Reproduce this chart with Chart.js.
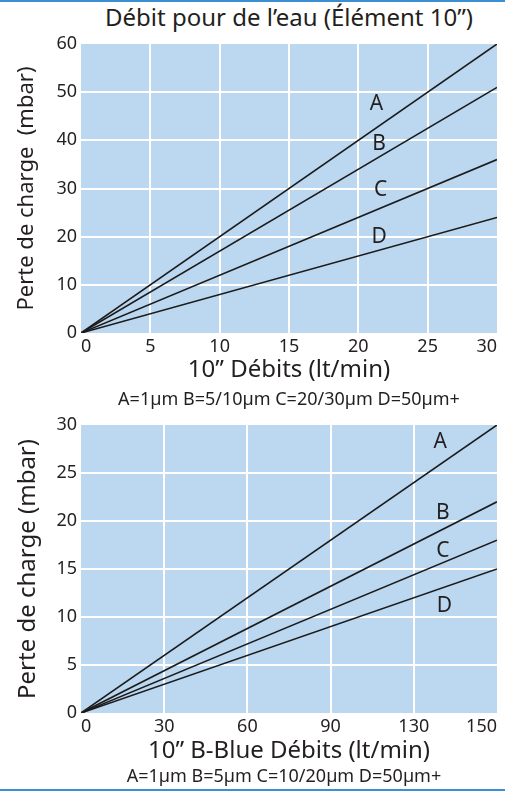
<!DOCTYPE html>
<html>
<head>
<meta charset="utf-8">
<script src="https://cdn.jsdelivr.net/npm/chart.js@4.4.1/dist/chart.umd.min.js"></script>
<style>
  body { margin: 0; background: #fff; font-family: "Noto Sans", sans-serif; color: #231f20; }
  #page { position: relative; width: 510px; height: 792px; overflow: hidden; }
  .bande { position: absolute; left: 0; width: 505px; height: 2px; background: #3b8fd2; }
  .texte { position: absolute; text-align: center; white-space: nowrap; line-height: 1; }
  .graph { position: absolute; left: 0; width: 510px; }
</style>
</head>
<body>
<div id="page">
  <div class="bande" style="top:0"></div>
  <div class="texte" style="left:81px;width:416px;top:5px;font-size:24px;">Débit pour de l’eau (Élément 10”)</div>
  <div class="graph" style="top:0;height:400px"><canvas id="graphEau"></canvas></div>
  <div class="texte" style="left:81px;width:416px;top:389px;font-size:18px;">A=1µm B=5/10µm C=20/30µm D=50µm+</div>

  <div class="graph" style="top:400px;height:392px"><canvas id="graphBlue"></canvas></div>
  <div class="texte" style="left:81px;width:406px;top:766px;font-size:18px;">A=1µm B=5µm C=10/20µm D=50µm+</div>
  <div class="bande" style="top:789px"></div>
</div>
<script>
// Graphique 1 : eau, élément 10"
const debitsEau = [0, 30];
const eauA = [0, 60];
const eauB = [0, 51];
const eauC = [0, 36];
const eauD = [0, 24];
// position des lettres (en unités du graphique)
const lettresEau = [
  { t: "A", x: 21.3, y: 47.5 },
  { t: "B", x: 21.5, y: 39.2 },
  { t: "C", x: 21.6, y: 29.6 },
  { t: "D", x: 21.5, y: 20.0 },
];

// Graphique 2 : B-Blue 10"
const debitsBlue = [0, 150];
const blueA = [0, 30];
const blueB = [0, 22];
const blueC = [0, 18];
const blueD = [0, 15];
const ticksBlue = ["0", "30", "60", "90", "130", "150"];
const lettresBlue = [
  { t: "A", x: 129.5, y: 28.2 },
  { t: "B", x: 130.5, y: 20.8 },
  { t: "C", x: 130.5, y: 16.9 },
  { t: "D", x: 131, y: 11.1 },
];

const police = "'Noto Sans', sans-serif";
const encre = "#231f20";

function points(xs, ys) {
  return xs.map((x, i) => ({ x: x, y: ys[i] }));
}

function serie(xs, ys) {
  return {
    data: points(xs, ys),
    borderColor: "#1b1b1b",
    borderWidth: 1.6,
    pointRadius: 0,
    tension: 0,
  };
}

// fond bleu de la zone de tracé
const fondBleu = {
  id: "fondBleu",
  beforeDraw(chart) {
    const a = chart.chartArea;
    const ctx = chart.ctx;
    ctx.save();
    ctx.fillStyle = "#bcd7f0";
    ctx.fillRect(a.left, a.top, a.right - a.left, a.bottom - a.top);
    ctx.restore();
  },
};

// lettres A, B, C, D
const lettres = {
  id: "lettres",
  afterDatasetsDraw(chart, args, opts) {
    const ctx = chart.ctx;
    ctx.save();
    ctx.fillStyle = encre;
    ctx.font = "21px " + police;
    ctx.textAlign = "center";
    ctx.textBaseline = "middle";
    opts.items.forEach((l) => {
      ctx.fillText(l.t, chart.scales.x.getPixelForValue(l.x), chart.scales.y.getPixelForValue(l.y));
    });
    ctx.restore();
  },
};

function grille(ctx) {
  const s = ctx.scale;
  if (ctx.tick.value === s.min || ctx.tick.value === s.max) return "rgba(0,0,0,0)";
  return "#ffffff";
}

function options(cfg) {
  return {
    responsive: true,
    maintainAspectRatio: false,
    animation: false,
    layout: { padding: cfg.padding },
    plugins: {
      legend: { display: false },
      tooltip: { enabled: false },
      lettres: { items: cfg.lettres },
    },
    scales: {
      x: {
        type: "linear",
        min: cfg.xMax[0],
        max: cfg.xMax[1],
        ticks: {
          stepSize: cfg.xStep,
          color: encre,
          font: { family: police, size: 18 },
          padding: 3,
          align: "inner",
          callback: cfg.xLabel,
        },
        grid: { color: grille, lineWidth: 2, drawTicks: false },
        border: { display: false },
        title: { display: true, text: cfg.xTitre, color: encre, font: { family: police, size: 24 }, padding: { top: 0, bottom: 4 } },
        afterFit(scale) { scale.height = cfg.xHaut; },
      },
      y: {
        min: 0,
        max: cfg.yMax,
        ticks: {
          stepSize: cfg.yStep,
          color: encre,
          font: { family: police, size: 18 },
          padding: 4,
        },
        grid: { color: grille, lineWidth: 2, drawTicks: false },
        border: { display: false },
        title: { display: true, text: cfg.yTitre, color: encre, font: { family: police, size: cfg.yTaille }, padding: { top: 4, bottom: 0 } },
        afterFit(scale) { scale.width = 71; },
      },
    },
  };
}

new Chart(document.getElementById("graphEau"), {
  type: "line",
  data: {
    datasets: [serie(debitsEau, eauA), serie(debitsEau, eauB), serie(debitsEau, eauC), serie(debitsEau, eauD)],
  },
  options: options({
    padding: { top: 44, left: 10, right: 13, bottom: 11 },
    lettres: lettresEau,
    xMax: [0, 30],
    xStep: 5,
    xTitre: "10” Débits (lt/min)",
    xHaut: 56,
    yMax: 60,
    yStep: 10,
    yTitre: "Perte de charge  (mbar)",
    yTaille: 22,
  }),
  plugins: [fondBleu, lettres],
});

new Chart(document.getElementById("graphBlue"), {
  type: "line",
  data: {
    datasets: [serie(debitsBlue, blueA), serie(debitsBlue, blueB), serie(debitsBlue, blueC), serie(debitsBlue, blueD)],
  },
  options: options({
    padding: { top: 25, left: 10, right: 13, bottom: 22 },
    lettres: lettresBlue,
    xMax: [0, 150],
    xStep: 30,
    xLabel: (v, i) => ticksBlue[i],
    xTitre: "10” B-Blue Débits (lt/min)",
    xHaut: 57,
    yMax: 30,
    yStep: 5,
    yTitre: "Perte de charge (mbar)",
    yTaille: 24,
  }),
  plugins: [fondBleu, lettres],
});
</script>
</body>
</html>
